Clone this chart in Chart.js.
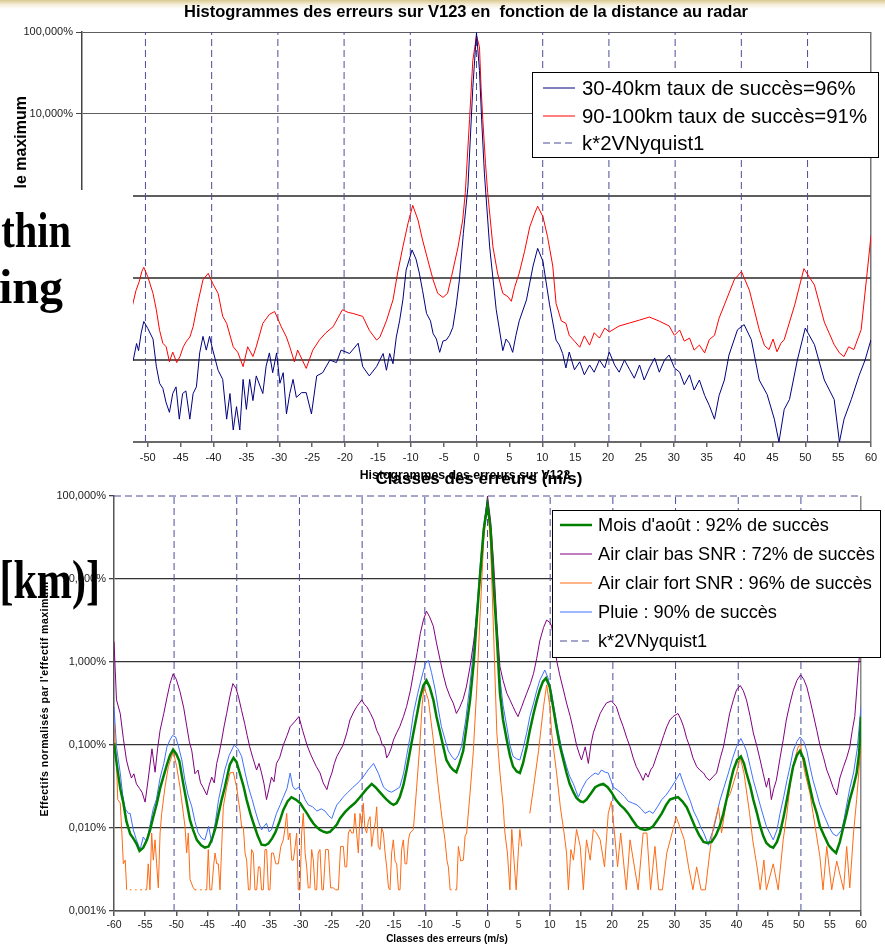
<!DOCTYPE html>
<html><head><meta charset="utf-8">
<script src="https://cdn.jsdelivr.net/npm/chart.js@4"></script>
<style>
html,body{margin:0;padding:0;}
body{width:885px;height:945px;overflow:hidden;position:relative;background:linear-gradient(to bottom,#d9c88f 0px,#f2ead2 4px,#ffffff 9px);}
canvas{position:absolute;left:0;top:0;}
</style></head><body>
<canvas id="c1" width="885" height="945"></canvas>
<canvas id="c2" width="885" height="945"></canvas>
<canvas id="c3" width="885" height="945"></canvas>
<script>
// ---------- DATA ----------
const topTitle = "Histogrammes des erreurs sur V123 en  fonction de la distance au radar";
const topXTitle = "Classes des erreurs (m/s)";
const topYTitle = "Effectifs normalisés par le maximum";
const topLabels = ["30-40km taux de succès=96%", "90-100km taux de succès=91%", "k*2VNyquist1"];
const botTitle = "Histogrammes des erreurs sur V123";
const botXTitle = "Classes des erreurs (m/s)";
const botYTitle = "Effectifs normalisés par l'effectif maximum";
const botLabels = ["Mois d'août : 92% de succès", "Air clair bas SNR : 72% de succès", "Air clair fort SNR : 96% de succès", "Pluie : 90% de succès", "k*2VNyquist1"];
const yTickValues = [0.001, 0.01, 0.1, 1, 10, 100];
const nyquistX = [-50.35, -40.28, -30.21, -20.14, -10.07, 0, 10.07, 20.14, 30.21, 40.28, 50.35];

// top chart: 30-40 km (blue)  [x m/s, % of max]
const top3040 = [[-53,0.008],[-52.2,0.010],[-51.7,0.0159],[-51.4,0.013],[-51,0.0214],[-50.6,0.0295],[-50,0.0243],[-49.2,0.018],[-48.7,0.0084],[-48.2,0.0052],
[-47.7,0.0045],[-47.2,0.0030],[-46.7,0.0023],[-46.2,0.0039],[-45.7,0.0047],[-45.2,0.0019],[-44.7,0.0039],[-44.2,0.0042],[-43.6,0.0019],[-43.1,0.0039],
[-42.6,0.0047],[-42.1,0.0122],[-41.6,0.0194],[-41.1,0.0132],[-40.6,0.0194],[-40.1,0.0132],[-39.3,0.0075],[-38.6,0.0058],[-38,0.0019],[-37.5,0.0039],
[-37,0.0014],[-36.5,0.0027],[-36,0.0014],[-35.5,0.0058],[-35,0.0025],[-34.5,0.0058],[-34,0.0032],[-33.5,0.0064],[-32.5,0.0039],[-32,0.0084],
[-31.5,0.0122],[-31,0.007],[-30.4,0.0122],[-29.9,0.0052],[-29.4,0.007],[-28.9,0.0022],[-28.4,0.0039],[-27.9,0.0058],[-27.4,0.0035],[-26.6,0.004],
[-25.9,0.004],[-25.1,0.0022],[-24.3,0.0064],[-23.4,0.007],[-22.3,0.01],[-21.3,0.0093],[-20.6,0.0132],[-19.3,0.012],[-18,0.016],[-17.3,0.0083],
[-16.3,0.0064],[-15.2,0.0083],[-14.2,0.012],[-13.7,0.0075],[-13.2,0.012],[-12.7,0.009],[-12.2,0.019],[-11.7,0.03],[-11.2,0.054],[-10.7,0.125],
[-9.8,0.22],[-9.2,0.17],[-8.7,0.115],[-8.2,0.07],[-7.6,0.037],[-7,0.03],[-6.6,0.021],[-6.1,0.018],[-5.6,0.0124],[-5.1,0.017],
[-4.6,0.0175],[-4.1,0.02],[-3.6,0.025],[-3.1,0.045],[-2.6,0.095],[-2,0.35],[-1.3,1.3],[-0.56,21],[0,98],[0.45,34],
[0.8,8],[1.2,1.9],[2,0.24],[3,0.041],[4,0.013],[4.5,0.018],[5,0.016],[5.5,0.0124],[6,0.02],[6.5,0.03],
[7.6,0.054],[8.6,0.14],[9.3,0.23],[10.1,0.16],[11.1,0.048],[12.1,0.0175],[12.6,0.0152],[13.1,0.012],[13.6,0.008],[14.1,0.0125],
[14.9,0.0076],[15.7,0.0095],[16.4,0.0066],[17.2,0.0087],[17.9,0.0071],[18.7,0.01],[19.5,0.008],[20.2,0.0125],[21,0.0087],[21.7,0.0071],
[22.5,0.01],[23.3,0.0076],[24,0.006],[24.8,0.0087],[25.5,0.0057],[26.3,0.008],[27.1,0.0106],[27.8,0.0071],[28.6,0.01],[29.3,0.0115],
[30.1,0.008],[30.9,0.0071],[31.6,0.005],[32.4,0.0066],[33.1,0.0043],[33.9,0.0057],[34.7,0.0037],[35.4,0.0028],[36.2,0.0019],[36.9,0.0037],
[37.7,0.0057],[38.4,0.0115],[39.7,0.0234],[40.7,0.027],[41.8,0.0177],[43,0.0057],[44.2,0.0038],[45.3,0.0019],[46,0.001],[46.8,0.0025],
[47.6,0.0033],[48.8,0.01],[50,0.0245],[51.4,0.0154],[52.9,0.0057],[54.4,0.0033],[55.2,0.001],[55.9,0.0019],[57,0.0033],[58.2,0.0065],
[59.1,0.01],[60,0.0177]];

// top chart: 90-100 km (red)
const top90100 = [[-53,0.035],[-52.3,0.047],[-51.8,0.07],[-51.3,0.09],[-50.9,0.12],[-50.6,0.135],[-50,0.104],[-49.2,0.065],[-48.7,0.041],[-48.2,0.023],
[-47.7,0.016],[-47.2,0.0145],[-46.7,0.0095],[-46.2,0.0125],[-45.6,0.0093],[-45.1,0.011],[-44.6,0.0145],[-44.1,0.017],[-43.6,0.019],[-43.1,0.0255],
[-42.4,0.049],[-41.6,0.095],[-40.8,0.114],[-40.1,0.085],[-39.3,0.065],[-38.6,0.034],[-38,0.028],[-37,0.0145],[-36.3,0.0124],[-35.5,0.0083],
[-34.8,0.0145],[-34,0.011],[-33.5,0.0145],[-32.5,0.028],[-31.5,0.036],[-30.7,0.039],[-29.7,0.0255],[-28.9,0.019],[-28.4,0.0145],[-27.7,0.0095],
[-27.2,0.0132],[-25.9,0.0079],[-24.9,0.0132],[-23.9,0.0175],[-22.9,0.0215],[-21.8,0.0255],[-20.4,0.041],[-19.5,0.038],[-18.8,0.037],[-17.3,0.034],
[-16.3,0.023],[-15.2,0.0175],[-14.7,0.019],[-13.7,0.03],[-12.7,0.054],[-12,0.115],[-11.2,0.24],[-10.4,0.47],[-9.7,0.77],[-8.9,0.51],
[-8.2,0.29],[-7.4,0.165],[-6.6,0.095],[-5.9,0.065],[-5.1,0.058],[-4.4,0.065],[-3.8,0.104],[-2.8,0.24],[-2.1,0.51],[-1.7,1.1],
[-1.06,8.5],[-0.56,45],[0,90],[0.45,66],[0.7,21],[0.96,8.5],[1.37,2.5],[1.7,1.1],[2.5,0.24],[3.2,0.115],
[4,0.065],[4.8,0.059],[5.3,0.052],[5.8,0.077],[6.5,0.115],[7.3,0.21],[8.1,0.42],[8.8,0.6],[9.3,0.75],[10.1,0.56],
[10.8,0.32],[11.6,0.14],[12.1,0.049],[12.9,0.03],[13.6,0.028],[14.1,0.02],[14.9,0.017],[15.7,0.0143],[16.4,0.0197],[17.2,0.0152],
[17.9,0.0215],[18.7,0.0185],[19.5,0.0245],[20.2,0.022],[21.7,0.026],[23.3,0.0283],[24.8,0.0307],[26.3,0.0334],[27.8,0.0298],[29.3,0.026],
[30.1,0.02],[30.9,0.0232],[31.6,0.017],[32.4,0.0185],[33.1,0.0132],[33.9,0.0152],[34.7,0.0122],[35.4,0.0177],[36.2,0.02],[36.9,0.0325],
[37.7,0.047],[39.2,0.095],[40.3,0.12],[41.5,0.071],[43,0.0234],[43.8,0.015],[44.5,0.0134],[45.1,0.018],[45.7,0.0126],[46.3,0.016],
[46.8,0.0177],[48.4,0.047],[49.8,0.13],[51.4,0.082],[52.9,0.029],[54.4,0.0154],[55.2,0.0122],[55.9,0.011],[56.6,0.0145],[57.4,0.0134],
[58.5,0.0234],[59.3,0.095],[60,0.33]];

// bottom chart: Mois d'août (green)
const botAout = [[-60,0.105],[-59.5,0.055],[-59,0.03],[-58.5,0.02],[-58,0.012],[-57.4,0.0085],[-56.9,0.0075],[-56.4,0.0065],[-55.9,0.0053],[-55.3,0.0058],
[-54.7,0.0072],[-54.2,0.0095],[-53.7,0.0135],[-53.1,0.02],[-52.6,0.03],[-52,0.043],[-51.5,0.058],[-51,0.075],[-50.5,0.088],[-50,0.078],
[-49.5,0.064],[-48.9,0.035],[-48.3,0.02],[-47.8,0.0125],[-47.3,0.0095],[-46.7,0.0072],[-46,0.0062],[-45.4,0.0058],[-44.8,0.006],[-44.3,0.0072],
[-43.7,0.01],[-43.2,0.015],[-42.7,0.022],[-42.2,0.031],[-41.4,0.058],[-40.8,0.07],[-40.3,0.062],[-39.8,0.046],[-39.2,0.032],[-38.7,0.022],
[-38.1,0.015],[-37.6,0.0114],[-36.9,0.008],[-36.3,0.0063],[-35.7,0.0062],[-35.2,0.0065],[-34.6,0.0075],[-34.1,0.0088],[-33.4,0.012],[-32.8,0.0165],
[-32.1,0.021],[-31.5,0.0235],[-30.8,0.022],[-30.1,0.02],[-29.5,0.017],[-29,0.015],[-28.5,0.013],[-28,0.0114],[-27.4,0.0102],[-26.9,0.0095],
[-26.3,0.009],[-25.8,0.0088],[-25.3,0.009],[-24.8,0.0098],[-24.2,0.011],[-23.7,0.013],[-22.9,0.0155],[-22.1,0.0178],[-21.3,0.02],[-20.5,0.0235],
[-19.5,0.029],[-18.6,0.034],[-18,0.031],[-17.3,0.027],[-16.7,0.024],[-16.2,0.022],[-15.6,0.02],[-15.1,0.019],[-14.6,0.02],[-14.1,0.0235],
[-13.5,0.033],[-13,0.05],[-12.5,0.08],[-11.9,0.14],[-11.3,0.24],[-10.8,0.38],[-10.3,0.52],[-9.8,0.6],[-9.3,0.5],[-8.7,0.35],
[-8.2,0.22],[-7.6,0.14],[-7.1,0.095],[-6.6,0.066],[-6,0.055],[-5.5,0.05],[-5,0.047],[-4.5,0.06],[-3.9,0.085],[-3.4,0.16],
[-2.8,0.35],[-2.2,1],[-1.7,3.5],[-1.2,11],[-0.6,40],[0,78],[0.5,40],[1,8],[1.5,2],[2,0.42],
[2.5,0.2],[3.1,0.115],[3.6,0.075],[4.1,0.055],[4.7,0.048],[5.2,0.046],[5.7,0.06],[6.3,0.095],[6.8,0.15],[7.4,0.24],
[7.9,0.34],[8.4,0.46],[8.9,0.58],[9.4,0.64],[10,0.5],[10.6,0.27],[11.1,0.16],[11.6,0.1],[12.2,0.065],[12.7,0.046],
[13.2,0.034],[13.8,0.027],[14.3,0.023],[14.9,0.021],[15.4,0.0205],[15.9,0.022],[16.6,0.026],[17.3,0.031],[18,0.033],[18.6,0.034],
[19.3,0.031],[19.9,0.027],[20.6,0.022],[21.3,0.019],[22,0.017],[22.6,0.015],[23.3,0.0125],[24,0.0105],[24.6,0.0098],[25.3,0.0095],
[26,0.0098],[26.6,0.0105],[27.3,0.0125],[28,0.015],[28.7,0.019],[29.3,0.022],[30,0.023],[30.6,0.0235],[31.3,0.021],[32,0.0178],
[32.6,0.014],[33.3,0.0105],[34,0.0082],[34.7,0.0068],[35.3,0.0066],[36,0.0068],[36.7,0.0082],[37.3,0.0105],[37.9,0.015],[38.4,0.022],
[39,0.035],[39.5,0.05],[40.1,0.066],[40.7,0.073],[41.2,0.06],[41.6,0.046],[42.2,0.032],[42.7,0.022],[43.3,0.015],[43.8,0.0105],
[44.3,0.008],[44.8,0.0066],[45.4,0.006],[45.9,0.0058],[46.5,0.0068],[47,0.0088],[47.6,0.014],[48.1,0.022],[48.6,0.035],[49.1,0.055],
[49.7,0.075],[50.2,0.085],[50.8,0.068],[51.3,0.046],[51.8,0.031],[52.3,0.021],[52.9,0.015],[53.4,0.0105],[54.1,0.008],[54.8,0.0062],
[55.4,0.0055],[56,0.005],[56.6,0.0068],[57.2,0.0105],[57.7,0.015],[58.2,0.022],[58.8,0.032],[59.3,0.046],[59.7,0.08],[60,0.22]];

// bottom chart: Air clair bas SNR (purple)
const botBasSNR = [[-60,1.76],[-59.6,0.35],[-59,0.24],[-58.5,0.12],[-58,0.066],[-57.6,0.05],[-57.2,0.04],[-56.8,0.045],[-56.4,0.034],[-55.9,0.03],
[-55.5,0.027],[-55,0.0205],[-54.5,0.039],[-53.9,0.09],[-53.4,0.047],[-53,0.09],[-52.6,0.15],[-52,0.24],[-51.5,0.37],[-51,0.55],
[-50.5,0.72],[-50,0.62],[-49.4,0.44],[-48.8,0.28],[-48.3,0.166],[-47.9,0.11],[-47.5,0.085],[-47,0.045],[-46.5,0.05],[-46.1,0.035],
[-45.7,0.031],[-45.1,0.025],[-44.7,0.033],[-44.3,0.041],[-43.9,0.035],[-43.5,0.06],[-43.1,0.08],[-42.7,0.115],[-42.3,0.17],[-41.9,0.24],
[-41.4,0.38],[-40.9,0.55],[-40.4,0.48],[-40,0.38],[-39.5,0.26],[-39,0.18],[-38.6,0.13],[-38.2,0.095],[-37.7,0.07],[-37.1,0.05],
[-36.7,0.06],[-36.3,0.046],[-35.9,0.034],[-35.5,0.022],[-35.1,0.03],[-34.7,0.041],[-34.3,0.036],[-33.9,0.06],[-33.4,0.07],[-32.8,0.1],
[-32.2,0.13],[-31.7,0.166],[-31,0.19],[-30.3,0.22],[-29.7,0.15],[-29,0.1],[-28.5,0.08],[-28,0.066],[-27.5,0.055],[-26.9,0.046],
[-26.4,0.035],[-25.8,0.029],[-25.4,0.038],[-25,0.046],[-24.6,0.06],[-24.2,0.073],[-23.7,0.085],[-23.2,0.1],[-22.6,0.14],[-22.1,0.2],
[-21.5,0.25],[-21,0.29],[-20.2,0.35],[-19.8,0.31],[-19.4,0.29],[-18.8,0.24],[-18.3,0.2],[-17.8,0.15],[-17.3,0.126],[-16.9,0.1],
[-16.5,0.095],[-16.2,0.07],[-15.9,0.076],[-15.5,0.09],[-15.1,0.115],[-14.6,0.14],[-14.1,0.166],[-13.5,0.22],[-13,0.29],[-12.4,0.45],
[-11.9,0.73],[-11.3,1.3],[-10.8,2.2],[-10.3,3.2],[-9.8,4.1],[-9.3,3.5],[-8.7,2.7],[-8.2,1.7],[-7.6,1.05],[-7.1,0.7],
[-6.6,0.5],[-6,0.38],[-5.5,0.32],[-5,0.24],[-4.5,0.28],[-3.9,0.36],[-3.4,0.5],[-2.8,0.88],[-2.2,1.8],[-1.7,3.9],
[-1.2,10],[-0.6,40],[0,100],[0.5,50],[1,15],[1.5,3],[2,0.88],[2.5,0.6],[3.1,0.42],[3.6,0.35],
[4.1,0.29],[4.5,0.25],[4.9,0.22],[5.5,0.29],[5.9,0.35],[6.3,0.42],[6.9,0.55],[7.4,0.73],[7.9,1.1],[8.4,1.8],
[9,2.6],[9.5,3.2],[10,3],[10.3,2.7],[10.7,1.8],[11.1,1.05],[11.6,0.7],[12.2,0.46],[12.7,0.32],[13.3,0.22],
[13.8,0.15],[14.3,0.1],[14.7,0.08],[15.1,0.066],[15.7,0.095],[16.2,0.06],[16.6,0.1],[17,0.14],[17.5,0.18],[18.1,0.24],
[18.6,0.28],[19.1,0.32],[19.9,0.34],[20.7,0.29],[21.2,0.22],[21.8,0.166],[22.4,0.12],[22.9,0.095],[23.4,0.07],[23.9,0.055],
[24.5,0.045],[25,0.0375],[25.4,0.046],[25.8,0.041],[26.2,0.05],[26.6,0.055],[27.2,0.075],[27.7,0.095],[28.3,0.13],[28.8,0.166],
[29.3,0.2],[29.8,0.22],[30.6,0.24],[31.1,0.2],[31.5,0.166],[32,0.12],[32.5,0.095],[33,0.07],[33.6,0.055],[34.1,0.05],
[34.7,0.046],[35.2,0.04],[35.7,0.0375],[36.3,0.042],[36.8,0.046],[37.4,0.07],[37.9,0.095],[38.4,0.15],[38.9,0.24],[39.5,0.35],
[40,0.46],[40.6,0.52],[41.1,0.45],[41.6,0.35],[42.2,0.22],[42.7,0.14],[43.3,0.095],[43.8,0.066],[44.3,0.045],[44.8,0.031],
[45.2,0.04],[45.6,0.022],[46,0.03],[46.4,0.0375],[47,0.07],[47.5,0.115],[48,0.2],[48.6,0.32],[49.1,0.45],[49.7,0.6],
[50.3,0.7],[50.8,0.62],[51.3,0.5],[51.8,0.35],[52.3,0.24],[52.9,0.15],[53.4,0.1],[54,0.07],[54.5,0.05],[55,0.04],
[55.5,0.031],[56.1,0.025],[56.6,0.04],[57.2,0.055],[57.7,0.07],[58.2,0.095],[58.6,0.15],[59,0.22],[59.6,0.88],[60,2]];

// bottom chart: Air clair fort SNR (orange); null = empty class
const botFortSNR = [[-60,0.18],[-59.6,0.062],[-59.4,0.022],[-59,0.02],[-58.7,0.0078],[-58.5,0.0037],[-58.2,0.0041],[-57.96,0.0018],[-57.7,null],[-57.43,0.0018],
[-57.2,0.0018],[-56.9,null],[-56.6,0.0018],[-56.36,0.0018],[-56.1,null],[-55.82,0.0018],[-55.5,0.0018],[-55.29,null],[-55,0.0018],[-54.75,0.0018],
[-54.5,0.0037],[-54.22,0.0018],[-53.95,0.0087],[-53.68,0.0041],[-53.41,0.0072],[-53.15,0.0037],[-52.88,0.0019],[-52.6,0.0087],[-52.34,0.015],[-51.81,0.031],
[-51.27,0.055],[-50.8,0.07],[-50.47,0.083],[-49.93,0.055],[-49.4,0.031],[-48.86,0.015],[-48.59,0.0103],[-48.33,0.005],[-48.06,0.0087],[-47.79,0.0024],
[-47.26,0.0019],[-47,0.0018],[-46.72,0.0018],[-46.4,null],[-46.19,0.0018],[-45.9,0.0018],[-45.65,null],[-45.4,0.0018],[-45.11,0.0018],[-44.85,0.0055],
[-44.6,0.0018],[-44.31,0.0018],[-44,0.0035],[-43.77,0.005],[-43.5,0.0037],[-43.24,0.0037],[-42.97,0.0018],[-42.7,0.006],[-42.44,0.018],[-41.9,0.031],
[-41.37,0.046],[-40.83,0.047],[-40.3,0.031],[-39.76,0.016],[-39.5,0.0103],[-39.22,0.0103],[-38.95,0.005],[-38.69,0.0041],[-38.4,0.0018],[-38.15,0.0018],
[-37.9,0.0055],[-37.62,0.005],[-37.35,0.0018],[-37.08,0.0018],[-36.8,0.0034],[-36.55,0.0034],[-36.3,0.0018],[-36.01,0.0018],[-35.75,0.0055],[-35.48,0.0055],
[-35.2,0.0018],[-34.94,0.0018],[-34.7,0.005],[-34.4,0.005],[-34,0.0037],[-33.6,0.0037],[-33.2,0.006],[-32.8,0.0072],[-32.5,0.0103],[-32.26,0.015],
[-32,0.0072],[-31.73,0.0087],[-31.45,0.0041],[-31.19,0.0041],[-30.9,0.006],[-30.66,0.0087],[-30.4,0.0018],[-30.12,0.0018],[-29.85,0.0087],[-29.59,0.015],
[-29.3,0.005],[-29.05,0.0034],[-28.8,0.0019],[-28.51,0.0019],[-28.25,0.0055],[-27.98,0.0041],[-27.7,0.0018],[-27.44,0.0018],[-27.2,0.005],[-26.91,0.0055],
[-26.6,0.0018],[-26.37,0.0018],[-26,0.0055],[-25.57,0.0055],[-25.2,0.0019],[-24.77,0.0019],[-24.4,0.0018],[-23.96,0.0018],[-23.6,0.006],[-23.16,0.006],
[-22.9,0.0034],[-22.62,0.0034],[-22.35,0.0087],[-22.09,0.0096],[-21.8,0.0087],[-21.55,0.0087],[-21.3,0.015],[-21.02,0.0087],[-20.75,0.005],[-20.48,0.015],
[-20.2,0.0103],[-19.95,0.02],[-19.7,0.01],[-19.41,0.0087],[-19.15,0.012],[-18.87,0.0137],[-18.6,0.006],[-18.34,0.0087],[-18,0.012],[-17.8,0.018],
[-17.55,0.006],[-17.27,0.0055],[-17,0.01],[-16.73,0.0087],[-16.45,0.005],[-16.2,0.0034],[-15.9,0.0019],[-15.66,0.0018],[-15.4,0.005],[-15.13,0.0072],
[-14.85,0.004],[-14.59,0.0037],[-14.3,0.0018],[-14.05,0.0018],[-13.8,0.0055],[-13.52,0.0072],[-13.25,0.0037],[-12.98,0.0037],[-12.7,0.0072],[-12.45,0.0087],
[-11.91,0.0096],[-11.38,0.031],[-10.84,0.11],[-10.5,0.3],[-10.2,0.5],[-9.5,0.35],[-8.7,0.115],[-7.9,0.031],[-7.36,0.014],[-6.83,0.0072],
[-6.5,0.004],[-6.29,0.0034],[-6,0.0018],[-5.76,0.0018],[-5.5,null],[-5.22,0.0018],[-4.95,0.0018],[-4.68,0.006],[-4.3,0.004],[-3.88,0.0041],
[-3.6,0.008],[-3.35,0.0087],[-2.81,0.026],[-2.28,0.083],[-1.74,0.46],[-1.2,3.5],[-0.6,30],[0,85],[0.5,25],[1,2],
[1.5,0.14],[2,0.046],[2.5,0.019],[2.8,0.0087],[3.2,0.005],[3.6,0.0018],[3.9,0.0096],[4.3,0.0037],[4.6,0.0018],[5,0.006],
[5.2,0.0096],[5.5,0.006],[5.9,null],[6.2,null],[6.8,0.015],[7.4,0.031],[8.2,0.085],[9,0.29],[9.5,0.53],[10,0.3],
[10.3,0.14],[11.1,0.046],[11.7,0.018],[12.3,0.0087],[12.7,0.005],[13,0.0018],[13.4,0.0055],[13.8,0.0041],[14.3,0.0096],[14.9,0.006],
[15.4,0.0018],[15.9,0.0072],[16.5,0.0041],[17,0.0096],[17.5,0.0087],[18.1,0.0072],[18.8,0.0034],[19.4,0.015],[19.9,0.021],[20.4,0.0087],
[20.9,0.0034],[21.4,0.0087],[22.3,0.0018],[22.9,0.0072],[23.6,0.0034],[24.2,0.0018],[25,0.0087],[25.6,0.0087],[26.2,0.0018],[26.9,0.006],
[27.5,0.0018],[28.1,0.0018],[28.8,0.005],[29.8,0.0096],[30.3,0.0137],[30.9,0.0103],[31.6,0.0072],[32.3,0.0034],[33,0.0018],[33.6,0.0034],
[34.3,0.0018],[35,0.0018],[35.7,0.005],[36.2,0.0096],[37.1,0.018],[37.6,0.0087],[38.4,0.022],[39,0.026],[40,0.046],[40.6,0.07],
[41.2,0.046],[42.1,0.015],[42.6,0.0072],[43.3,0.0034],[43.8,0.0018],[44.4,0.0041],[44.8,0.0018],[45.9,0.0037],[46.7,0.0018],[47.5,0.0072],
[48.1,0.015],[48.9,0.05],[49.9,0.095],[50.3,0.1],[50.9,0.05],[51.8,0.026],[52.3,0.015],[52.8,0.0087],[53.4,0.0045],[53.9,0.0018],
[54.5,0.006],[55.3,0.0018],[56.1,0.004],[57.2,0.0018],[57.7,0.006],[58.2,0.0019],[58.8,0.0087],[59.3,0.022],[60,0.1]];

// bottom chart: Pluie (light blue)
const botPluie = [[-60,0.29],[-59.6,0.095],[-59,0.046],[-58.6,0.025],[-58.2,0.017],[-57.7,0.015],[-57.4,0.015],[-56.9,0.0095],[-56.4,0.0072],[-55.8,0.0055],
[-55.3,0.0078],[-55,0.0072],[-54.7,0.0072],[-54.2,0.011],[-53.7,0.017],[-53.2,0.022],[-52.6,0.04],[-52,0.06],[-51.5,0.095],[-51,0.115],
[-50.6,0.13],[-50.1,0.125],[-49.7,0.1],[-49.1,0.066],[-48.6,0.0375],[-48.1,0.025],[-47.5,0.018],[-47,0.012],[-46.5,0.0088],[-45.9,0.0075],
[-45.4,0.0072],[-44.8,0.0105],[-44.3,0.0066],[-43.7,0.012],[-43.2,0.022],[-42.7,0.033],[-42.2,0.05],[-41.5,0.075],[-40.7,0.1],[-40.1,0.09],
[-39.5,0.073],[-38.9,0.045],[-38.4,0.031],[-37.8,0.022],[-37.3,0.016],[-36.8,0.012],[-36.3,0.0095],[-35.9,0.0105],[-35.5,0.0114],[-35.1,0.009],
[-34.7,0.0095],[-34.3,0.012],[-33.9,0.015],[-33.3,0.019],[-32.8,0.0235],[-32.2,0.03],[-31.7,0.046],[-31.3,0.032],[-30.9,0.029],[-30.3,0.031],
[-29.8,0.027],[-29.3,0.022],[-28.8,0.019],[-28.1,0.018],[-27.4,0.016],[-26.7,0.017],[-26.1,0.016],[-25.5,0.014],[-25,0.013],[-24.6,0.016],
[-24.2,0.019],[-23.7,0.021],[-23.2,0.0235],[-22.4,0.027],[-21.6,0.031],[-20.8,0.035],[-20,0.041],[-19.2,0.05],[-18.3,0.06],[-17.5,0.045],
[-16.7,0.031],[-16,0.028],[-15.4,0.027],[-14.7,0.029],[-14.1,0.031],[-13.5,0.045],[-13,0.073],[-12.4,0.13],[-11.9,0.24],[-11.2,0.42],
[-10.6,0.64],[-10,0.95],[-9.5,1.05],[-9,0.75],[-8.4,0.46],[-7.9,0.27],[-7.4,0.166],[-6.8,0.115],[-6.3,0.085],[-5.7,0.072],
[-5.2,0.066],[-4.7,0.075],[-4.2,0.095],[-3.5,0.2],[-2.8,0.55],[-2.2,1.5],[-1.7,4.5],[-1.2,14],[-0.6,45],[0,90],
[0.5,40],[1,10],[1.5,2.5],[2,0.64],[2.5,0.3],[3.1,0.166],[3.6,0.1],[4.1,0.073],[4.7,0.068],[5.2,0.066],
[5.7,0.09],[6.3,0.14],[6.8,0.22],[7.4,0.32],[7.9,0.45],[8.4,0.6],[9.2,0.8],[9.7,0.65],[10.3,0.42],[10.8,0.25],
[11.4,0.14],[12,0.085],[12.7,0.055],[13.2,0.042],[13.8,0.034],[14.6,0.0235],[15.2,0.03],[15.9,0.0375],[16.6,0.042],[17.3,0.046],
[17.8,0.044],[18.3,0.05],[18.9,0.047],[19.4,0.046],[19.8,0.038],[20.2,0.031],[20.8,0.029],[21.3,0.027],[22,0.024],[22.6,0.021],
[23.3,0.02],[24,0.019],[24.7,0.017],[25.3,0.015],[26,0.016],[26.6,0.015],[27.3,0.018],[28,0.022],[28.7,0.025],[29.3,0.029],
[30.1,0.036],[30.9,0.046],[31.5,0.034],[32,0.027],[32.6,0.021],[33.1,0.016],[33.7,0.013],[34.2,0.0105],[34.8,0.0085],[35.5,0.0062],
[35.9,0.008],[36.3,0.0095],[36.8,0.014],[37.3,0.021],[38,0.031],[38.7,0.046],[39.4,0.07],[40,0.095],[40.7,0.12],[41.2,0.1],
[41.6,0.085],[42.2,0.055],[42.7,0.0375],[43.3,0.026],[43.8,0.019],[44.3,0.014],[44.8,0.0105],[45.4,0.0085],[45.9,0.0072],[46.5,0.0095],
[47,0.015],[47.6,0.024],[48.1,0.0375],[48.6,0.055],[49.1,0.085],[49.7,0.11],[50.2,0.125],[50.8,0.11],[51.3,0.085],[51.8,0.055],
[52.3,0.0375],[52.9,0.026],[53.4,0.019],[54.1,0.014],[54.8,0.0105],[55.5,0.0085],[56.1,0.008],[56.9,0.0095],[57.3,0.013],[57.7,0.019],
[58.2,0.03],[58.8,0.046],[59.4,0.09],[60,0.29]];

// ---------- HELPERS ----------
Chart.defaults.font.family = "'Liberation Sans', Arial, sans-serif";
const pts = arr => arr.map(p => ({x: p[0], y: p[1]}));
const fmtPct = v => Number(v).toFixed(3).replace('.', ',') + '%';
function nyqPoints(lo, hi, withTop) {
  const p = [];
  nyquistX.forEach(x => { p.push({x, y: lo}, {x, y: hi}, {x, y: null}); });
  if (withTop) { p.push({x: -60, y: hi}, {x: 60, y: hi}); }
  return p;
}
function boxLegend(cfg) {
  return { id: 'boxLegend', afterDraw(chart) {
    const ctx = chart.ctx; ctx.save();
    ctx.fillStyle = '#fff'; ctx.fillRect(cfg.x, cfg.y, cfg.w, cfg.h);
    ctx.strokeStyle = '#000'; ctx.lineWidth = 1; ctx.strokeRect(cfg.x + 0.5, cfg.y + 0.5, cfg.w, cfg.h);
    chart.data.datasets.forEach((ds, i) => {
      const y = cfg.rows[i];
      ctx.beginPath(); ctx.setLineDash(ds.borderDash || []);
      ctx.strokeStyle = ds.borderColor; ctx.lineWidth = ds.borderWidth;
      ctx.moveTo(cfg.s0, y); ctx.lineTo(cfg.s1, y); ctx.stroke(); ctx.setLineDash([]);
      ctx.fillStyle = '#000'; ctx.font = cfg.font; ctx.textAlign = 'left'; ctx.textBaseline = 'middle';
      ctx.fillText(ds.label, cfg.tx, y + 1);
    });
    ctx.restore();
  }};
}
function texts(items) {
  return { id: 'texts', afterDraw(chart) {
    const ctx = chart.ctx;
    items.forEach(t => {
      ctx.save(); ctx.font = t.font; ctx.fillStyle = '#000';
      if (t.spacing) { try { ctx.letterSpacing = t.spacing; } catch (e) {} }
      ctx.textAlign = t.align || 'center'; ctx.textBaseline = 'middle';
      ctx.translate(t.x, t.y); if (t.rot) ctx.rotate(t.rot);
      ctx.fillText(t.text, 0, 0); ctx.restore();
    });
  }};
}

// ---------- TOP CHART ----------
new Chart(document.getElementById('c1'), {
  type: 'line',
  data: { datasets: [
    { label: topLabels[0], data: pts(top3040), borderColor: '#000080', borderWidth: 1, pointRadius: 0, tension: 0 },
    { label: topLabels[1], data: pts(top90100), borderColor: '#ff0000', borderWidth: 1, pointRadius: 0, tension: 0 },
    { label: topLabels[2], data: nyqPoints(yTickValues[0], yTickValues[yTickValues.length - 1], false), borderColor: '#4d4d99', borderWidth: 1, borderDash: [7, 4], pointRadius: 0, clip: 2 }
  ]},
  options: {
    responsive: false, animation: false, devicePixelRatio: 1,
    layout: { padding: { left: 0, top: 32, right: 14, bottom: 473 } },
    plugins: { legend: { display: false }, tooltip: { enabled: false }, title: { display: false } },
    scales: {
      x: { type: 'linear', min: -60, max: 60,
        ticks: { stepSize: 5, autoSkip: false, maxRotation: 0, padding: 4, color: '#222', font: { size: 11 }, callback: v => String(v) },
        grid: { color: c => (c.tick && c.tick.value === 60) ? '#777' : 'rgba(0,0,0,0)', tickColor: '#666', tickLength: 5, lineWidth: 1.5 },
        border: { color: '#6a6a6a', width: 2 },
        afterFit: s => { s.height = 30; } },
      y: { type: 'logarithmic', min: 0.001, max: 100,
        afterBuildTicks: s => { s.ticks = yTickValues.map(v => ({ value: v })); },
        ticks: { padding: 3, color: '#222', font: { size: 11 }, callback: v => fmtPct(v) },
        grid: { color: '#5e5e5e', lineWidth: c => (c.tick && c.tick.value >= 10) ? 1 : 2, tickColor: '#444', tickLength: 6 },
        border: { color: '#444', width: 1.5 },
        afterFit: s => { s.width = 82; } }
    }
  },
  plugins: [boxLegend({ x: 532, y: 72, w: 346, h: 85, rows: [88, 116, 143], s0: 543, s1: 575, tx: 582, font: "20.4px 'Liberation Sans', Arial" }),
            texts([
              { text: topTitle, x: 466, y: 12, font: "bold 16.5px 'Liberation Sans', Arial" },
              { text: topXTitle, x: 479, y: 479, font: "bold 17px 'Liberation Sans', Arial" },
              { text: topYTitle, x: 22, y: 96, font: "bold 16px 'Liberation Sans', Arial", align: 'right', rot: -Math.PI / 2 }
            ])]
});

// ---------- BOTTOM CHART ----------
new Chart(document.getElementById('c2'), {
  type: 'line',
  data: { datasets: [
    { label: botLabels[0], data: pts(botAout), borderColor: '#008000', borderWidth: 2.5, pointRadius: 0, tension: 0 },
    { label: botLabels[1], data: pts(botBasSNR), borderColor: '#800080', borderWidth: 1, pointRadius: 0, tension: 0 },
    { label: botLabels[2], data: pts(botFortSNR), borderColor: '#ff6a13', borderWidth: 1, pointRadius: 0, tension: 0 },
    { label: botLabels[3], data: pts(botPluie), borderColor: '#4070ff', borderWidth: 1, pointRadius: 0, tension: 0 },
    { label: botLabels[4], data: nyqPoints(yTickValues[0], yTickValues[yTickValues.length - 1], true), borderColor: '#4d4d99', borderWidth: 1, borderDash: [7, 4], pointRadius: 0, clip: 2 }
  ]},
  options: {
    responsive: false, animation: false, devicePixelRatio: 1,
    layout: { padding: { left: 0, top: 496, right: 24, bottom: 4 } },
    plugins: { legend: { display: false }, tooltip: { enabled: false }, title: { display: false } },
    scales: {
      x: { type: 'linear', min: -60, max: 60,
        ticks: { stepSize: 5, autoSkip: false, maxRotation: 0, padding: 3, color: '#222', font: { size: 10.5 }, callback: v => String(v) },
        grid: { color: c => (c.tick && c.tick.value === 60) ? '#888' : 'rgba(0,0,0,0)', tickColor: '#555', tickLength: 5, lineWidth: 1.5 },
        border: { color: '#555', width: 1.5 },
        afterFit: s => { s.height = 30; } },
      y: { type: 'logarithmic', min: 0.001, max: 100,
        afterBuildTicks: s => { s.ticks = yTickValues.map(v => ({ value: v })); },
        ticks: { padding: 3, color: '#222', font: { size: 11 }, callback: v => fmtPct(v) },
        grid: { color: c => (c.tick && c.tick.value === 100) ? 'rgba(0,0,0,0)' : '#333', lineWidth: 1.3, tickColor: '#444', tickLength: 5 },
        border: { color: '#555', width: 1.5 },
        afterFit: s => { s.width = 114; } }
    }
  },
  plugins: [boxLegend({ x: 552, y: 510, w: 328, h: 147, rows: [525, 554, 583, 612, 641], s0: 560, s1: 592, tx: 598, font: "18.2px 'Liberation Sans', Arial" }),
            texts([
              { text: botTitle, x: 465, y: 476, font: "bold 12.3px 'Liberation Sans', Arial" },
              { text: botXTitle, x: 447, y: 939, font: "bold 10px 'Liberation Sans', Arial" },
              { text: botYTitle, x: 45, y: 699, font: "bold 10.5px 'Liberation Sans', Arial", rot: -Math.PI / 2, spacing: '0.5px' }
            ])]
});

// ---------- SLIDE OVERLAY (text box partly covering the charts) ----------
const o = document.getElementById('c3').getContext('2d');
o.fillStyle = '#fff'; o.fillRect(0, 190, 133, 276);
o.fillStyle = '#000'; o.textAlign = 'right'; o.textBaseline = 'alphabetic';
function slideWord(word, right, base, size, sx) {
  o.save(); o.translate(right, base); o.scale(sx, 1);
  o.font = "bold " + size + "px 'Liberation Serif', 'Times New Roman', serif";
  o.fillText(word, 0, 0); o.restore();
}
slideWord('thin', 71, 247, 50, 0.81);
slideWord('ing', 63, 303, 48, 1);
slideWord('[km)]', 100, 598, 54, 0.78);
</script></body></html>
